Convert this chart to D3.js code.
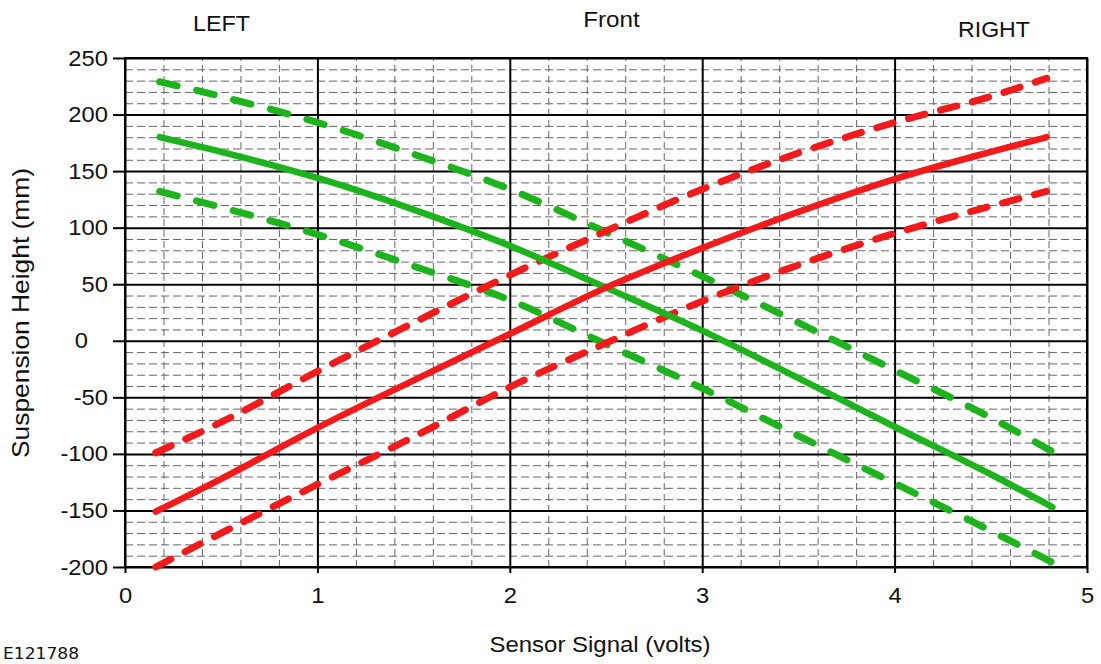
<!DOCTYPE html>
<html>
<head>
<meta charset="utf-8">
<script src="https://cdn.jsdelivr.net/npm/d3@7"></script>
<style>
  body { margin: 0; background: #fff; }
  svg text { font-family: "Liberation Sans", Arial, sans-serif; fill: #111; }
  .tick text { font-size: 22px; }
  .labels { font-size: 22px; }
  .code { font-family: "DejaVu Sans", sans-serif; font-size: 16px; }
</style>
</head>
<body>
<script>
// Values
var voltsGreen = [0.18, 0.5, 1, 1.5, 2, 2.5, 3, 3.5, 4, 4.5, 4.82];
var voltsRed = [0.16, 0.5, 1, 1.5, 2, 2.5, 3, 3.5, 4, 4.5, 4.79];

var leftNominal = [180, 167, 144, 116, 84, 47, 9, -33, -76, -118, -147];
var leftUpper = [229, 216, 193, 165, 134, 96, 57, 16, -26, -68, -98];
var leftLower = [132, 118, 94, 66, 36, -3, -42, -84, -126, -168, -196];

var rightNominal = [-151, -122, -77, -35, 6, 47, 82, 114, 143, 167, 180];
var rightUpper = [-99, -72, -27, 16, 58, 97, 134, 166, 193, 216, 232];
var rightLower = [-200, -170, -127, -85, -41, -2, 35, 67, 95, 119, 132];

var xTicks = [0, 1, 2, 3, 4, 5];
var yTicks = [-200, -150, -100, -50, 0, 50, 100, 150, 200, 250];

// Stretch text a little, the picture's font is wider than Arial
function stretch(sel, k) {
  sel.each(function() {
    var w = this.getComputedTextLength();
    d3.select(this)
      .attr("textLength", w * k)
      .attr("lengthAdjust", "spacingAndGlyphs");
  });
}

function zip(xs, ys) {
  return xs.map(function(v, i) { return [v, ys[i]]; });
}

// plain hyphen for negatives, like the original
function plain(d) {
  return String(d);
}

var width = 1101;
var height = 664;
var svg = d3.select("body").append("svg")
  .attr("width", width)
  .attr("height", height);

// Plot box
var boxLeft = 125, boxRight = 1087, boxTop = 58, boxBottom = 567;

var xScale = d3.scaleLinear().domain([0, 5]).range([boxLeft, boxRight]);
var yScale = d3.scaleLinear().domain([-200, 250]).range([boxBottom, boxTop]);

// Minor grid, dashed grey
var minorX = d3.range(1, 25).map(function(i) { return i * 0.2; }).filter(function(d) {
  return Math.abs(d - Math.round(d)) > 0.01;
});
var minorY = d3.range(-200, 251, 10).filter(function(d) { return d % 50 != 0; });

svg.append("g")
  .attr("transform", "translate(0," + boxBottom + ")")
  .call(d3.axisBottom(xScale).tickValues(minorX).tickSize(-(boxBottom - boxTop)).tickFormat(""))
  .call(function(g) { g.select(".domain").remove(); })
  .selectAll("line")
  .attr("stroke", "#666")
  .attr("stroke-width", 1)
  .attr("stroke-dasharray", "7,4");

svg.append("g")
  .attr("transform", "translate(" + boxLeft + ",0)")
  .call(d3.axisLeft(yScale).tickValues(minorY).tickSize(-(boxRight - boxLeft)).tickFormat(""))
  .call(function(g) { g.select(".domain").remove(); })
  .selectAll("line")
  .attr("stroke", "#666")
  .attr("stroke-width", 1)
  .attr("stroke-dasharray", "8,4");

// Major grid
svg.append("g")
  .attr("transform", "translate(" + boxLeft + ",0)")
  .call(d3.axisLeft(yScale).tickValues(yTicks).tickSize(-(boxRight - boxLeft)).tickFormat(""))
  .call(function(g) { g.select(".domain").remove(); })
  .selectAll("line")
  .attr("stroke", "#000")
  .attr("stroke-width", 2);

svg.append("g")
  .attr("transform", "translate(0," + boxBottom + ")")
  .call(d3.axisBottom(xScale).tickValues(xTicks).tickSize(-(boxBottom - boxTop)).tickFormat(""))
  .call(function(g) { g.select(".domain").remove(); })
  .selectAll("line")
  .attr("stroke", "#000")
  .attr("stroke-width", 2);

// Axes with labels, ticks stick out of the box
var yAxis = svg.append("g")
  .attr("transform", "translate(" + boxLeft + ",0)")
  .call(d3.axisLeft(yScale).tickValues(yTicks).tickFormat(plain)
    .tickSize(12).tickPadding(5).tickSizeOuter(0));
yAxis.select(".domain").remove();
yAxis.selectAll("line").attr("stroke", "#000").attr("stroke-width", 2);
yAxis.selectAll("text").call(stretch, 1.08);
// the zero label sits further left in the original
yAxis.selectAll(".tick")
  .filter(function(d) { return d == 0; })
  .select("text")
  .attr("x", -37);

var xAxis = svg.append("g")
  .attr("transform", "translate(0," + boxBottom + ")")
  .call(d3.axisBottom(xScale).tickValues(xTicks).tickFormat(plain)
    .tickSize(6).tickPadding(14).tickSizeOuter(0));
xAxis.select(".domain").remove();
xAxis.selectAll("line").attr("stroke", "#000").attr("stroke-width", 2);
xAxis.selectAll("text").call(stretch, 1.08);

// Frame
svg.append("rect")
  .attr("x", boxLeft)
  .attr("y", boxTop)
  .attr("width", boxRight - boxLeft)
  .attr("height", boxBottom - boxTop)
  .attr("fill", "none")
  .attr("stroke", "#000")
  .attr("stroke-width", 2);

// Curves
var line = d3.line()
  .x(function(d) { return xScale(d[0]); })
  .y(function(d) { return yScale(d[1]); })
  .curve(d3.curveMonotoneX);

var green = "#1cb31c";
var red = "#f21a1a";

var series = [
  { pts: zip(voltsGreen, leftUpper), color: green, dash: "18,20" },
  { pts: zip(voltsGreen, leftLower), color: green, dash: "18,20" },
  { pts: zip(voltsRed, rightUpper), color: red, dash: "17,16" },
  { pts: zip(voltsRed, rightLower), color: red, dash: "17,16" },
  { pts: zip(voltsGreen, leftNominal), color: green, dash: null },
  { pts: zip(voltsRed, rightNominal), color: red, dash: null }
];

svg.selectAll(".curve")
  .data(series)
  .enter()
  .append("path")
  .attr("class", "curve")
  .attr("d", function(d) { return line(d.pts); })
  .attr("fill", "none")
  .attr("stroke", function(d) { return d.color; })
  .attr("stroke-width", function(d) { return d.dash ? 7 : 6.5; })
  .attr("stroke-linecap", "round")
  .attr("stroke-dasharray", function(d) { return d.dash; });

// Header labels
svg.append("text").attr("class", "labels")
  .attr("x", 221.5).attr("y", 31).attr("text-anchor", "middle")
  .text("LEFT").call(stretch, 1.06);
svg.append("text").attr("class", "labels")
  .attr("x", 611.5).attr("y", 27).attr("text-anchor", "middle")
  .text("Front").call(stretch, 1.1);
svg.append("text").attr("class", "labels")
  .attr("x", 994).attr("y", 37).attr("text-anchor", "middle")
  .text("RIGHT").call(stretch, 1.05);

// Axis titles
svg.append("text").attr("class", "labels")
  .attr("transform", "translate(29,313) rotate(-90)")
  .attr("text-anchor", "middle")
  .style("font-size", "24px")
  .attr("textLength", 290)
  .attr("lengthAdjust", "spacingAndGlyphs")
  .text("Suspension Height (mm)");

svg.append("text").attr("class", "labels")
  .attr("x", 600).attr("y", 652).attr("text-anchor", "middle")
  .attr("textLength", 221)
  .attr("lengthAdjust", "spacingAndGlyphs")
  .text("Sensor Signal (volts)");

svg.append("text").attr("class", "code")
  .attr("x", 3).attr("y", 659)
  .attr("textLength", 76)
  .attr("lengthAdjust", "spacingAndGlyphs")
  .text("E121788");
</script>
</body>
</html>
